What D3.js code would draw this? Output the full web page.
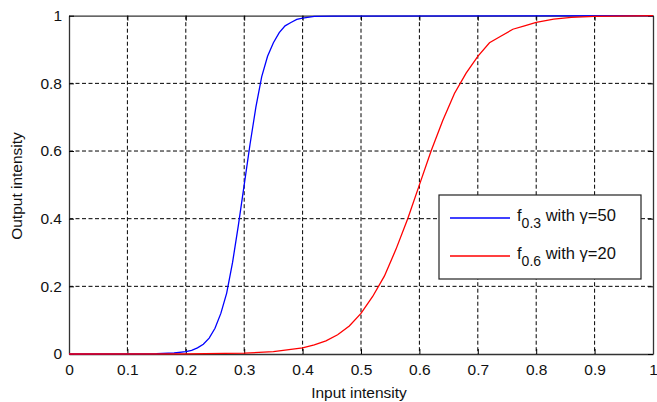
<!DOCTYPE html>
<html><head><meta charset="utf-8">
<script src="https://cdn.jsdelivr.net/npm/d3@7"></script>
<style>
body{margin:0;background:#fff;}
text{font-family:"Liberation Sans",Arial,sans-serif;fill:#111;}
</style></head>
<body>
<svg id="c" width="657" height="402"></svg>
<script>
const xTicks = [0,0.1,0.2,0.3,0.4,0.5,0.6,0.7,0.8,0.9,1];
const xTickLabels = ["0","0.1","0.2","0.3","0.4","0.5","0.6","0.7","0.8","0.9","1"];
const yTicks = [0,0.2,0.4,0.6,0.8,1];
const yTickLabels = ["0","0.2","0.4","0.6","0.8","1"];

const blueX = [0,0.15,0.18,0.20,0.21,0.22,0.23,0.24,0.25,0.26,0.27,0.28,0.29,0.30,0.31,0.32,0.33,0.34,0.35,0.36,0.37,0.38,0.39,0.40,0.42,0.45,1.0];
const blueY = [0,0.001,0.003,0.007,0.011,0.018,0.029,0.047,0.076,0.12,0.18,0.27,0.38,0.50,0.62,0.73,0.82,0.88,0.92,0.95,0.97,0.98,0.989,0.993,0.998,0.999,1];

const redX = [0,0.2,0.3,0.35,0.4,0.42,0.44,0.46,0.48,0.5,0.52,0.54,0.56,0.58,0.6,0.62,0.64,0.66,0.68,0.7,0.72,0.74,0.76,0.78,0.8,0.83,0.86,0.9,1];
const redY = [0,0.0003,0.0025,0.007,0.018,0.027,0.039,0.057,0.083,0.12,0.17,0.23,0.31,0.40,0.50,0.60,0.69,0.77,0.83,0.88,0.92,0.94,0.96,0.97,0.98,0.99,0.995,0.998,1];

const seriesNames = ["0.3","0.6"];
const seriesGamma = ["50","20"];
const xLabel = "Input intensity";
const yLabel = "Output intensity";

const L=69, R=653, T=15.7, B=354;
const svg = d3.select("#c");
const x = d3.scaleLinear().domain([0,1]).range([L,R]);
const y = d3.scaleLinear().domain([0,1]).range([B,T]);

// grid
const g = svg.append("g");
xTicks.slice(1,-1).forEach(t=>{
  g.append("line").attr("x1",x(t)).attr("x2",x(t)).attr("y1",T).attr("y2",B)
   .attr("stroke","#000").attr("stroke-width",1).attr("stroke-dasharray","4,2.5");
});
yTicks.slice(1,-1).forEach(t=>{
  g.append("line").attr("x1",L).attr("x2",R).attr("y1",y(t)).attr("y2",y(t))
   .attr("stroke","#000").attr("stroke-width",1).attr("stroke-dasharray","4,2.5");
});

// axes with inward ticks
const fmtX = (d,i)=>xTickLabels[i];
const fmtY = (d,i)=>yTickLabels[i];
const axB = svg.append("g").attr("transform",`translate(0,${B})`)
  .call(d3.axisBottom(x).tickValues(xTicks).tickFormat(fmtX).tickSizeInner(-5).tickSizeOuter(0).tickPadding(10));
const axT = svg.append("g").attr("transform",`translate(0,${T})`)
  .call(d3.axisTop(x).tickValues(xTicks).tickFormat("").tickSizeInner(-5).tickSizeOuter(0));
const axL = svg.append("g").attr("transform",`translate(${L},0)`)
  .call(d3.axisLeft(y).tickValues(yTicks).tickFormat(fmtY).tickSizeInner(-5).tickSizeOuter(0).tickPadding(7));
const axR = svg.append("g").attr("transform",`translate(${R},0)`)
  .call(d3.axisRight(y).tickValues(yTicks).tickFormat("").tickSizeInner(-5).tickSizeOuter(0));
[axB,axT,axL,axR].forEach(a=>{
  a.selectAll(".domain").attr("stroke","#333").attr("stroke-width",1.3);
  a.selectAll(".tick line").attr("stroke","#000").attr("stroke-width",1);
  a.selectAll("text").style("font-family","'Liberation Sans',Arial,sans-serif").style("font-size","15.5px").attr("fill","#111");
});

// curves
const line = d3.line().x(d=>x(d[0])).y(d=>y(d[1]));
const blue = blueX.map((v,i)=>[v,blueY[i]]);
const red = redX.map((v,i)=>[v,redY[i]]);
svg.append("path").datum(blue).attr("d",line).attr("fill","none").attr("stroke","#0000ff").attr("stroke-width",1.3);
svg.append("path").datum(red).attr("d",line).attr("fill","none").attr("stroke","#ff0000").attr("stroke-width",1.3);

// axis labels
svg.append("text").attr("x",359).attr("y",398).attr("text-anchor","middle").style("font-size","15.5px").text(xLabel);
svg.append("text").attr("transform","translate(22,186) rotate(-90)").attr("text-anchor","middle").style("font-size","15.5px").text(yLabel);

// legend
const lg = svg.append("g");
lg.append("rect").attr("x",439).attr("y",195).attr("width",202).attr("height",84)
  .attr("fill","#fff").attr("stroke","#222").attr("stroke-width",1.2);
const colors = ["#0000ff","#ff0000"];
const rowY = [218,256];
seriesNames.forEach((n,i)=>{
  lg.append("line").attr("x1",450).attr("x2",510).attr("y1",rowY[i]).attr("y2",rowY[i])
    .attr("stroke",colors[i]).attr("stroke-width",1.3);
  const t = lg.append("text").attr("x",517).attr("y",rowY[i]+3).style("font-size","16.5px");
  t.append("tspan").text("f");
  t.append("tspan").attr("dy",7).style("font-size","14px").text(n);
  t.append("tspan").attr("dy",-7).text(" with \u03B3=" + seriesGamma[i]);
});
</script>
</body></html>
